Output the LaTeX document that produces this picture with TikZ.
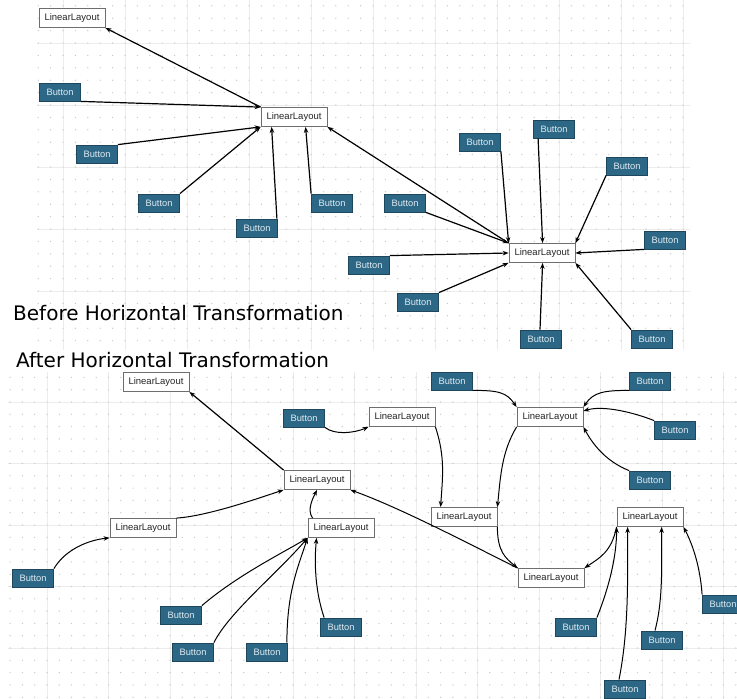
\documentclass[tikz,border=0pt]{standalone}
\usepackage{fontspec}
\setmainfont{Liberation Sans}
\newfontfamily\titlefont{DejaVu Sans}
\usetikzlibrary{arrows.meta}
\definecolor{btnfill}{RGB}{44,104,134}
\definecolor{btnborder}{RGB}{30,70,92}
\definecolor{btntext}{RGB}{225,235,242}
\definecolor{llgray}{RGB}{110,110,110}
\definecolor{gridc}{RGB}{236,236,236}
\definecolor{dotc}{RGB}{200,200,200}
\begin{document}
\begin{tikzpicture}[x=1pt,y=-1pt,
  llbox/.style={draw=llgray, line width=0.8pt, fill=white, minimum width=66pt, minimum height=19pt, inner sep=0pt, text=black!85, font=\fontsize{9.5}{10}\selectfont},
  btn/.style={draw=btnborder, line width=0.8pt, fill=btnfill, minimum width=41pt, minimum height=18pt, inner sep=0pt, text=btntext, font=\fontsize{9.3}{10}\selectfont},
  edge/.style={draw=black, line width=1.2pt, -{Stealth[length=6pt,width=4.5pt]}},
  cedge/.style={draw=black, line width=1pt, -{Stealth[length=6pt,width=4.5pt]}},
  gridline/.style={draw=gridc, line width=0.6pt},
  title/.style={anchor=base west, inner sep=0pt, text=black, font=\titlefont\fontsize{20}{22}\selectfont}]
\clip (0,0) rectangle (737,699);
\fill[white] (0,0) rectangle (737,699);
% ---- top panel grid
\foreach \k in {0,...,10} \draw[gridline] (63+62*\k,0) -- (63+62*\k,350);
\foreach \k in {0,...,4} \draw[gridline] (37,43+62*\k) -- (690,43+62*\k);
\foreach \i in {0,...,52} \foreach \j in {0,...,27} \fill[dotc] (38.2+12.4*\i,5.8+12.4*\j) circle (0.7);
% ---- bottom panel grid
\foreach \k in {0,...,11} \draw[gridline] (47+61.5*\k,372) -- (47+61.5*\k,699);
\foreach \k in {0,...,4} \draw[gridline] (8,402+61.5*\k) -- (737,402+61.5*\k);
\foreach \i in {0,...,59} \foreach \j in {0,...,26} \fill[dotc] (10.1+12.3*\i,377.4+12.3*\j) circle (0.7);
% ---- titles
\node[title] (before) at (13,320) {Before Horizontal Transformation};
\node[title] (after) at (16,367) {After Horizontal Transformation};
% ---- top nodes
\node[llbox] (L1) at (72,18) {LinearLayout};
\node[llbox] (L2) at (294,117) {LinearLayout};
\node[llbox] (L3) at (542,253) {LinearLayout};
\node[btn] (t1) at (60,92) {Button};
\node[btn] (t2) at (97,154) {Button};
\node[btn] (t3) at (159,203) {Button};
\node[btn] (t4) at (257,228) {Button};
\node[btn] (t5) at (332,203) {Button};
\node[btn] (t6) at (405,203) {Button};
\node[btn] (t7) at (480,142) {Button};
\node[btn] (t8) at (554,129) {Button};
\node[btn] (t9) at (627,166) {Button};
\node[btn] (t10) at (665,240) {Button};
\node[btn] (t11) at (369,265) {Button};
\node[btn] (t12) at (418,302) {Button};
\node[btn] (t13) at (541,339) {Button};
\node[btn] (t14) at (652,339) {Button};
% ---- top edges
\draw[edge] (L2.north west) -- (L1.south east);
\draw[edge] (t1.south east) -- (L2.north west);
\draw[edge] (t2.north east) -- (L2.south west);
\draw[edge] (t3.north east) -- (L2.south west);
\draw[edge] ([xshift=-1pt]t4.north east) -- ([xshift=11pt]L2.south west);
\draw[edge] (t5.north west) -- ([xshift=45pt]L2.south west);
\draw[edge] (L3.north west) -- (L2.south east);
\draw[edge] (t6.south east) -- (L3.north west);
\draw[edge] (t7.south east) -- (L3.north west);
\draw[edge] ([xshift=5pt]t8.south west) -- ([xshift=34pt]L3.north west);
\draw[edge] (t9.south west) -- (L3.north east);
\draw[edge] (t10.south west) -- (L3.east);
\draw[edge] (t11.north east) -- (L3.west);
\draw[edge] (t12.north east) -- (L3.south west);
\draw[edge] ([xshift=-1pt]t13.north) -- ([xshift=34pt]L3.south west);
\draw[edge] (t14.north west) -- (L3.south east);
% ---- bottom nodes
\node[llbox] (a) at (156,382) {LinearLayout};
\node[llbox] (b) at (402,417) {LinearLayout};
\node[llbox] (c) at (317,480) {LinearLayout};
\node[llbox] (d) at (143,528) {LinearLayout};
\node[llbox] (e) at (341,528) {LinearLayout};
\node[llbox] (f) at (550,417) {LinearLayout};
\node[llbox] (g) at (464,517) {LinearLayout};
\node[llbox] (h) at (650,517) {LinearLayout};
\node[llbox] (i) at (551,578) {LinearLayout};
\node[btn] (b1) at (304,418) {Button};
\node[btn] (b2) at (33,578) {Button};
\node[btn] (b3) at (181,615) {Button};
\node[btn] (b4) at (193,652) {Button};
\node[btn] (b5) at (267,652) {Button};
\node[btn] (b6) at (341,627) {Button};
\node[btn] (b7) at (452,381) {Button};
\node[btn] (b8) at (650,381) {Button};
\node[btn] (b9) at (675,430) {Button};
\node[btn] (b10) at (650,480) {Button};
\node[btn] (b11) at (723,604) {Button};
\node[btn] (b12) at (576,627) {Button};
\node[btn] (b13) at (662,640) {Button};
\node[btn] (b14) at (625,689) {Button};
% ---- bottom edges
\draw[edge] (c.north west) -- (a.south east);
\draw[cedge] (b1.south east) .. controls +(10,8) and +(-14,6) .. (b.south west);
\draw[cedge] (d.north east) .. controls +(30,-2) and +(-30,10) .. (c.south west);
\draw[cedge] (b2.north east) .. controls +(12,-20) and +(-20,2) .. (d.south west);
\draw[cedge] ([xshift=5pt]e.north west) .. controls +(-6,-8) and +(-4,8) .. (c.south);
\draw[cedge] (b3.north east) .. controls +(35,-30) and +(-25,15) .. (e.south west);
\draw[cedge] (b4.north east) .. controls +(15,-30) and +(-30,35) .. (e.south west);
\draw[cedge] ([xshift=-1pt]b5.north east) .. controls +(0,-50) and +(-10,30) .. (e.south west);
\draw[cedge] ([xshift=4pt]b6.north west) .. controls +(-10,-30) and +(-2,20) .. ([xshift=9pt]e.south west);
\draw[cedge] (i.north west) .. controls +(-50,-25) and +(50,18) .. (c.south east);
\draw[cedge] (b7.south east) .. controls +(25,0) and +(-10,-15) .. (f.north west);
\draw[cedge] (b8.south west) .. controls +(-25,0) and +(10,-15) .. (f.north east);
\draw[cedge] (b9.north west) .. controls +(-20,-8) and +(20,-6) .. ([yshift=6pt]f.east);
\draw[cedge] (b10.north west) .. controls +(-25,-10) and +(8,15) .. (f.south east);
\draw[cedge] (b.south east) .. controls +(10,30) and +(2,-30) .. ([xshift=10pt]g.north west);
\draw[cedge] (f.south west) .. controls +(-15,25) and +(3,-30) .. (g.north east);
\draw[cedge] (g.south east) .. controls +(0,25) and +(-12,-10) .. (i.north west);
\draw[cedge] (h.south west) .. controls +(-5,25) and +(15,-10) .. (i.north east);
\draw[cedge] (b12.north east) .. controls +(12,-30) and +(0,30) .. (h.south west);
\draw[cedge] ([xshift=-6pt]b14.north) .. controls +(10,-50) and +(0,50) .. ([xshift=11pt]h.south west);
\draw[cedge] ([xshift=-7pt]b13.north) .. controls +(8,-30) and +(0,40) .. ([xshift=45pt]h.south west);
\draw[cedge] (b11.north west) .. controls +(-2,-30) and +(8,15) .. (h.south east);
\end{tikzpicture}
\end{document}
